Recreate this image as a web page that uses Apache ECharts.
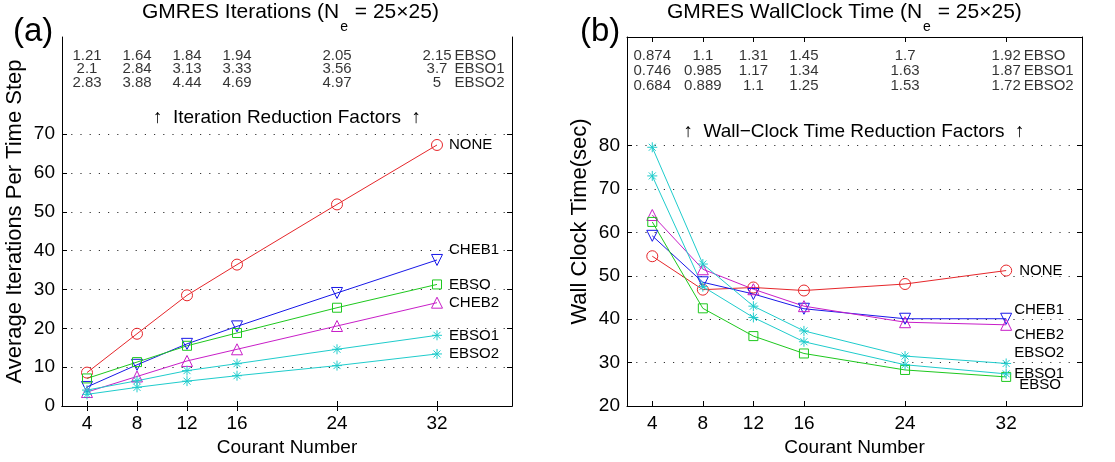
<!DOCTYPE html>
<html><head><meta charset="utf-8">
<script src="https://cdn.jsdelivr.net/npm/echarts@6/dist/echarts.min.js"></script>
<style>html,body{margin:0;padding:0;background:#fff}#c{width:1115px;height:462px}</style>
</head><body><div id="c"></div>
<script>
// ---------- data ----------
const courant = [4, 8, 12, 16, 24, 32];
const xTicks = [4, 8, 12, 16, 24, 32];
const iterTicks = [0, 10, 20, 30, 40, 50, 60, 70];
const wallTicks = [20, 30, 40, 50, 60, 70, 80];

const iterNONE  = [8.6, 18.6, 28.5, 36.4, 51.9, 67.2];
const iterCHEB1 = [4.9, 10.6, 16.0, 20.5, 29.1, 37.6];
const iterEBSO  = [7.1, 11.3, 15.5, 18.8, 25.3, 31.3];
const iterCHEB2 = [3.6, 7.6, 11.6, 14.6, 20.6, 26.6];
const iterEBSO1 = [4.1, 6.5, 9.1, 10.9, 14.6, 18.2];
const iterEBSO2 = [3.0, 4.8, 6.4, 7.8, 10.4, 13.4];

const wallNONE  = [54.5, 46.8, 47.3, 46.6, 48.1, 51.2];
const wallCHEB1 = [59.2, 48.5, 45.8, 42.4, 40.1, 40.1];
const wallCHEB2 = [64.0, 51.5, 46.9, 43.0, 39.3, 38.7];
const wallEBSO  = [62.4, 42.5, 36.1, 32.1, 28.3, 26.7];
const wallEBSO1 = [73.0, 47.5, 40.4, 34.8, 29.5, 27.4];
const wallEBSO2 = [79.6, 52.7, 43.0, 37.3, 31.5, 29.8];

const iterFactorEBSO  = ['1.21', '1.64', '1.84', '1.94', '2.05', '2.15'];
const iterFactorEBSO1 = ['2.1', '2.84', '3.13', '3.33', '3.56', '3.7'];
const iterFactorEBSO2 = ['2.83', '3.88', '4.44', '4.69', '4.97', '5'];
const wallFactorEBSO  = ['0.874', '1.1', '1.31', '1.45', '1.7', '1.92'];
const wallFactorEBSO1 = ['0.746', '0.985', '1.17', '1.34', '1.63', '1.87'];
const wallFactorEBSO2 = ['0.684', '0.889', '1.1', '1.25', '1.53', '1.72'];
const factorNames = ['EBSO', 'EBSO1', 'EBSO2'];

// ---------- styles ----------
const FF = 'Liberation Sans, Arial, sans-serif';
const C = {NONE: '#e6262a', CHEB1: '#1818e8', EBSO: '#1ec81e', CHEB2: '#c81ec8', EBSO1: '#1fcccc', EBSO2: '#1fcccc'};
const ASTER = 'path://M5,0L5,10M0,5L10,5M1.5,1.5L8.5,8.5M8.5,1.5L1.5,8.5';
const MK = {
  NONE: {symbol: 'circle', size: 11, rot: 0},
  CHEB1: {symbol: 'triangle', size: 11, rot: 180},
  EBSO: {symbol: 'rect', size: 9, rot: 0},
  CHEB2: {symbol: 'triangle', size: 11, rot: 0},
  EBSO1: {symbol: ASTER, size: 10, rot: 0},
  EBSO2: {symbol: ASTER, size: 10, rot: 0}
};

function lineSeries(name, vals, gi, lab) {
  const m = MK[name];
  return {
    type: 'line', name: name, xAxisIndex: gi * 2, yAxisIndex: gi * 2,
    data: courant.map((x, i) => [x, vals[i]]),
    symbol: m.symbol, symbolSize: m.size, symbolRotate: m.rot,
    showAllSymbol: true, silent: true,
    lineStyle: {color: C[name], width: 1},
    itemStyle: {color: 'rgba(0,0,0,0)', borderColor: C[name], borderWidth: 1},
    endLabel: {show: true, formatter: lab.text || name, color: '#000', fontSize: 15, fontFamily: FF,
      distance: 0, offset: [lab.dx, lab.dy], align: 'left', verticalAlign: 'middle'}
  };
}

function factorSeries(gi, facs, rowY, labDist) {
  const out = [];
  facs.forEach((f, r) => {
    out.push({
      type: 'scatter', xAxisIndex: gi * 2, yAxisIndex: gi * 2, silent: true,
      symbol: 'circle', symbolSize: 1, itemStyle: {color: 'rgba(0,0,0,0)'},
      data: courant.map((x, i) => [x, rowY[r], f[i]]),
      labelLayout: {hideOverlap: false},
      label: {show: true, position: 'inside', formatter: p => p.value[2],
        color: '#000', fontSize: 15, fontFamily: FF}
    });
    out.push({
      type: 'scatter', xAxisIndex: gi * 2, yAxisIndex: gi * 2, silent: true,
      symbol: 'circle', symbolSize: 1, itemStyle: {color: 'rgba(0,0,0,0)'},
      data: [[courant[courant.length - 1], rowY[r], factorNames[r]]],
      label: {show: true, position: 'right', distance: labDist, formatter: p => p.value[2],
        color: '#000', fontSize: 15, fontFamily: FF}
    });
  });
  return out;
}

const axisLine = {show: true, lineStyle: {color: '#000', width: 1}};
function xAxes(gi) {
  return [{
    type: 'value', gridIndex: gi, min: 2, max: 38, position: 'bottom',
    axisLine: axisLine,
    axisTick: {show: true, inside: true, length: 5, customValues: xTicks, lineStyle: {color: '#000'}},
    axisLabel: {show: true, customValues: xTicks, color: '#000', fontSize: 19, fontFamily: FF, margin: 8},
    splitLine: {show: false},
    name: 'Courant Number', nameLocation: 'middle', nameGap: 32,
    nameTextStyle: {color: '#000', fontSize: 19, fontFamily: FF}
  }, {
    type: 'value', gridIndex: gi, min: 2, max: 38, position: 'top',
    axisLine: axisLine,
    axisTick: {show: true, inside: true, length: 5, customValues: xTicks, lineStyle: {color: '#000'}},
    axisLabel: {show: false}, splitLine: {show: false}
  }];
}
function yAxes(gi, min, max, ticks, name) {
  return [{
    type: 'value', gridIndex: gi, min: min, max: max, position: 'left',
    axisLine: axisLine,
    axisTick: {show: true, inside: true, length: 5, customValues: ticks, lineStyle: {color: '#000'}},
    axisLabel: {show: true, customValues: ticks, color: '#000', fontSize: 19, fontFamily: FF, margin: 7},
    splitLine: {show: true, lineStyle: {color: '#333', width: 1, type: [1.2, 8]}},
    name: name, nameLocation: 'middle', nameGap: 36, nameRotate: 90,
    nameTextStyle: {color: '#000', fontSize: 22, fontFamily: FF}
  }, {
    type: 'value', gridIndex: gi, min: min, max: max, position: 'right',
    axisLine: axisLine,
    axisTick: {show: true, inside: true, length: 5, customValues: ticks, lineStyle: {color: '#000'}},
    axisLabel: {show: false}, splitLine: {show: false}
  }];
}

function titleText(x, y, main) {
  return {
    type: 'text', x: x, y: y, silent: true,
    style: {
      text: '{t|' + main + ' (N}{s|e}{t| = 25×25)}',
      textAlign: 'left', textVerticalAlign: 'top',
      rich: {
        t: {fontSize: 21, fontFamily: FF, fill: '#000', lineHeight: 24, verticalAlign: 'top'},
        s: {fontSize: 14, fontFamily: FF, fill: '#000', lineHeight: 15, verticalAlign: 'top', padding: [18, 1, 0, 1]}
      }
    }
  };
}

const series = [
  lineSeries('NONE', iterNONE, 0, {dx: 12, dy: 0}),
  lineSeries('CHEB1', iterCHEB1, 0, {dx: 12, dy: -10}),
  lineSeries('EBSO', iterEBSO, 0, {dx: 12, dy: 0}),
  lineSeries('CHEB2', iterCHEB2, 0, {dx: 12, dy: 0}),
  lineSeries('EBSO1', iterEBSO1, 0, {dx: 12, dy: 1}),
  lineSeries('EBSO2', iterEBSO2, 0, {dx: 12, dy: 0}),
  lineSeries('NONE', wallNONE, 1, {dx: 13, dy: 0}),
  lineSeries('CHEB1', wallCHEB1, 1, {dx: 8, dy: -9}),
  lineSeries('CHEB2', wallCHEB2, 1, {dx: 8, dy: 10}),
  lineSeries('EBSO', wallEBSO, 1, {dx: 13, dy: 8}),
  lineSeries('EBSO1', wallEBSO1, 1, {dx: 8, dy: 0}),
  lineSeries('EBSO2', wallEBSO2, 1, {dx: 8, dy: -11}),
  ...factorSeries(0, [iterFactorEBSO, iterFactorEBSO1, iterFactorEBSO2], [90.2, 86.7, 83.3], 17),
  ...factorSeries(1, [wallFactorEBSO, wallFactorEBSO1, wallFactorEBSO2], [100.7, 97.3, 93.8], 17)
];

const chart = echarts.init(document.getElementById('c'), null, {renderer: 'canvas'});
chart.setOption({
  animation: false,
  backgroundColor: '#fff',
  grid: [
    {left: 62, top: 37, width: 450, height: 369},
    {left: 627, top: 37, width: 455, height: 369}
  ],
  xAxis: [...xAxes(0), ...xAxes(1)],
  yAxis: [...yAxes(0, 0, 95, iterTicks, 'Average Iterations Per Time Step'),
          ...yAxes(1, 20, 105, wallTicks, 'Wall Clock Time(sec)')],
  series: series,
  graphic: [
    titleText(142, 2, 'GMRES Iterations'),
    titleText(667, 2, 'GMRES WallClock Time'),
    {type: 'text', x: 13, y: 32, silent: true, style: {text: '(a)', fontSize: 33, fontFamily: FF, fill: '#000', textAlign: 'left', textVerticalAlign: 'middle'}},
    {type: 'text', x: 580, y: 32, silent: true, style: {text: '(b)', fontSize: 33, fontFamily: FF, fill: '#000', textAlign: 'left', textVerticalAlign: 'middle'}},
    {type: 'text', x: 287, y: 118, silent: true, style: {text: '↑  Iteration Reduction Factors  ↑', fontSize: 19, fontFamily: FF, fill: '#000', textAlign: 'center', textVerticalAlign: 'middle'}},
    {type: 'text', x: 854, y: 132, silent: true, style: {text: '↑  Wall−Clock Time Reduction Factors  ↑', fontSize: 19, fontFamily: FF, fill: '#000', textAlign: 'center', textVerticalAlign: 'middle'}}
  ]
});
</script>
</body></html>
